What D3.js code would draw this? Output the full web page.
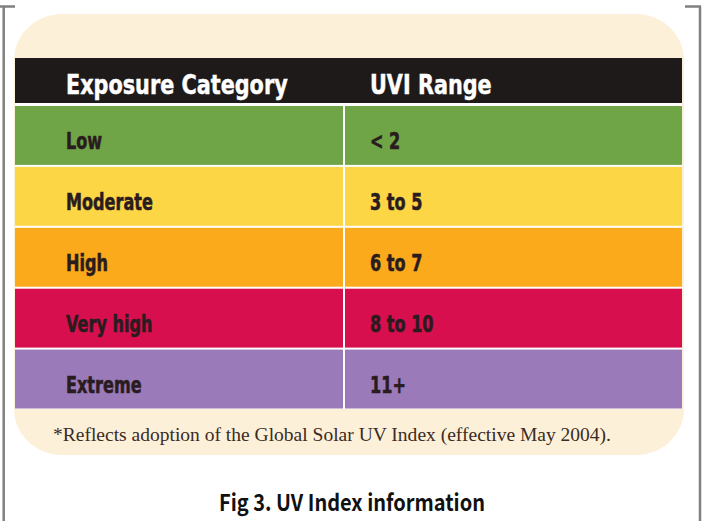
<!DOCTYPE html>
<html>
<head>
<meta charset="utf-8">
<script src="https://cdn.jsdelivr.net/npm/d3@7"></script>
<style>
  html, body { margin: 0; padding: 0; background: #fff; }
  svg { display: block; }
</style>
</head>
<body>
<div id="chart"></div>
<script>
// table content
const headers = ["Exposure Category", "UVI Range"];
const categories = ["Low", "Moderate", "High", "Very high", "Extreme"];
const ranges = ["< 2", "3 to 5", "6 to 7", "8 to 10", "11+"];
const rowColors = ["#6fa547", "#fdd646", "#fbaa1c", "#d80f4e", "#9a7ab8"];
const footnote = "*Reflects adoption of the Global Solar UV Index (effective May 2004).";
const caption = "Fig 3. UV Index information";

const W = 706, H = 521;
const svg = d3.select("#chart").append("svg")
  .attr("width", W)
  .attr("height", H);

// outer frame (gray)
const frame = svg.append("g").attr("stroke", "#808080").attr("fill", "none").attr("stroke-width", 2.5);
frame.append("path").attr("d", "M0,6.5 H15 M3.7,6.5 V521");
frame.append("path").attr("d", "M685,6.5 H701 M700,6.5 V521");

// beige panel
svg.append("rect")
  .attr("x", 14).attr("y", 14)
  .attr("width", 670).attr("height", 441)
  .attr("rx", 48).attr("ry", 46)
  .attr("fill", "#fdf0d9");

// table layout
const tableLeft = 15, tableRight = 682, divider = 344;
const x = d3.scaleOrdinal().domain(["cat", "range"]).range([tableLeft, divider + 1]);
const colWidth = { cat: divider - 1 - tableLeft, range: tableRight - divider - 1 };
const textX = { cat: 66, range: 370 };

const y = d3.scaleBand()
  .domain(categories)
  .range([104.5, 409])
  .paddingInner(0);

const color = d3.scaleOrdinal(categories, rowColors);

// white backing under the rows (shows as separator lines)
svg.append("rect")
  .attr("x", tableLeft).attr("y", 102)
  .attr("width", tableRight - tableLeft).attr("height", 307)
  .attr("fill", "#ffffff");

// header bar
svg.append("rect")
  .attr("x", tableLeft).attr("y", 58)
  .attr("width", tableRight - tableLeft).attr("height", 45)
  .attr("fill", "#1e1a1a");

const headFont = "'DejaVu Sans', 'Liberation Sans', sans-serif";

svg.selectAll("text.head")
  .data(headers)
  .join("text")
  .attr("class", "head")
  .attr("transform", (d, i) => `translate(${i === 0 ? textX.cat : textX.range},94) scale(0.77,1)`)
  .attr("fill", "#ffffff")
  .attr("stroke", "#ffffff")
  .attr("stroke-width", 0.5)
  .attr("font-family", headFont)
  .attr("font-weight", "bold")
  .attr("font-size", 27)
  .text(d => d);

// rows
const rows = svg.selectAll("g.row")
  .data(categories.map((c, i) => ({ cat: c, range: ranges[i] })))
  .join("g")
  .attr("class", "row")
  .attr("transform", d => `translate(0,${y(d.cat)})`);

["cat", "range"].forEach(col => {
  rows.append("rect")
    .attr("x", x(col))
    .attr("y", 1.5)
    .attr("width", colWidth[col])
    .attr("height", y.bandwidth() - 2)
    .attr("fill", d => color(d.cat));

  rows.append("text")
    .attr("transform", `translate(${textX[col]},${y.bandwidth() / 2 + 14}) scale(0.7,1)`)
    .attr("fill", "#2a1c1e")
    .attr("stroke", "#2a1c1e")
    .attr("stroke-width", 0.6)
    .attr("font-family", headFont)
    .attr("font-weight", "bold")
    .attr("font-size", 23)
    .text(d => d[col]);
});

// footnote
svg.append("text")
  .attr("x", 53).attr("y", 441)
  .attr("fill", "#3a2c24")
  .attr("font-family", "'Liberation Serif', 'DejaVu Serif', serif")
  .attr("font-size", 18)
  .attr("textLength", 558)
  .attr("lengthAdjust", "spacingAndGlyphs")
  .text(footnote);

// caption
svg.append("text")
  .attr("x", 219).attr("y", 511)
  .attr("fill", "#111111")
  .attr("font-family", "'Noto Sans CJK KR', 'Noto Sans', sans-serif")
  .attr("font-weight", "bold")
  .attr("font-size", 23)
  .attr("textLength", 266)
  .attr("lengthAdjust", "spacingAndGlyphs")
  .text(caption);
</script>
</body>
</html>
